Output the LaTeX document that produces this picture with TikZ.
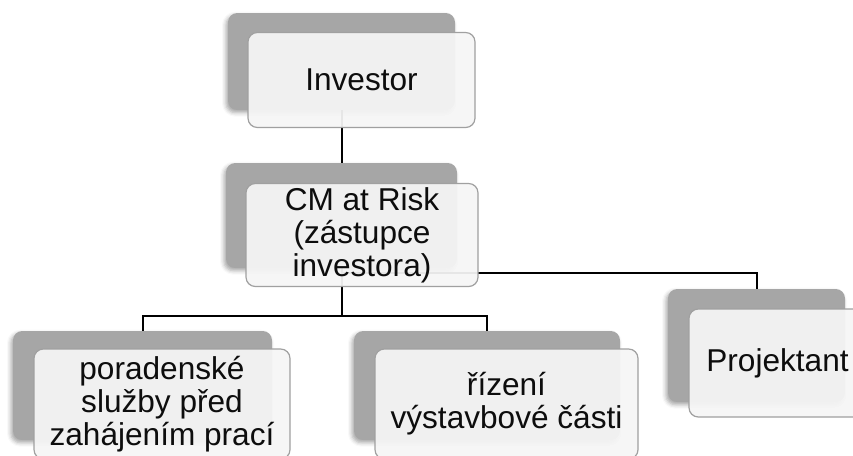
\documentclass[tikz,border=0pt]{standalone}
\usepackage{fontspec}
\setmainfont{Liberation Sans}
\usetikzlibrary{shadows.blur}
\definecolor{backgrey}{HTML}{A6A6A6}
\definecolor{frontfill}{HTML}{F5F5F5}
\definecolor{frontline}{HTML}{A0A0A0}
\tikzset{
  boxsize/.style 2 args={minimum width=#1*0.75pt, minimum height=#2*0.75pt},
  backbox/.style={rectangle, rounded corners=7pt, fill=backgrey, draw=none,
    inner sep=0pt, blur shadow={shadow xshift=-1.5pt, shadow yshift=-2pt,
    shadow blur radius=3pt, shadow opacity=35}},
  frontbox/.style={rectangle, rounded corners=7pt, fill=frontfill, fill opacity=0.94,
    text opacity=1, draw=frontline, line width=0.9pt, inner sep=0pt, align=center,
    font=\fontsize{23.7}{24.8}\selectfont, text=black!95},
  conn/.style={draw=black, line width=1.5pt}
}
\begin{document}
\begin{tikzpicture}[x=0.75pt, y=-0.75pt]
\useasboundingbox (0,0) rectangle (853,455);
\clip (0,0) rectangle (853,455);

% grey backing cards
\node[backbox, boxsize={227}{97}]  (invb) at (341.5,61.5) {};
\node[backbox, boxsize={231}{105}] (cmb)  at (341.5,215.5) {};
\node[backbox, boxsize={259}{109}] (psb)  at (142.5,385.5) {};
\node[backbox, boxsize={266}{109}] (rvb)  at (487,385.5) {};
\node[backbox, boxsize={177}{113}] (pjb)  at (756.5,345.5) {};

% connectors between the backing cards
\path (cmb.south) ++(0,48) coordinate (split);
\path (cmb.south) ++(0,5) coordinate (asst);
\draw[conn] (invb.south) -- (cmb.north);
\draw[conn] (cmb.south) -- (split) -| (psb.north);
\draw[conn] (split) -| (rvb.north);
\draw[conn] (cmb.south) -- (asst) -| (pjb.north);

% text cards
\node[frontbox, boxsize={227}{95}]  (inv) at (361.5,80) {Investor};
\node[frontbox, boxsize={232}{103}] (cm)  at (362,235) {CM at Risk\\(zástupce\\investora)};
\node[frontbox, boxsize={256}{110}] (ps)  at (162,404) {poradenské\\služby před\\zahájením prací};
\node[frontbox, boxsize={263}{110}] (rv)  at (506.5,404) {řízení\\výstavbové části};
\node[frontbox, boxsize={177}{108}] (pj)  at (777.5,363) {Projektant};
\end{tikzpicture}
\end{document}
